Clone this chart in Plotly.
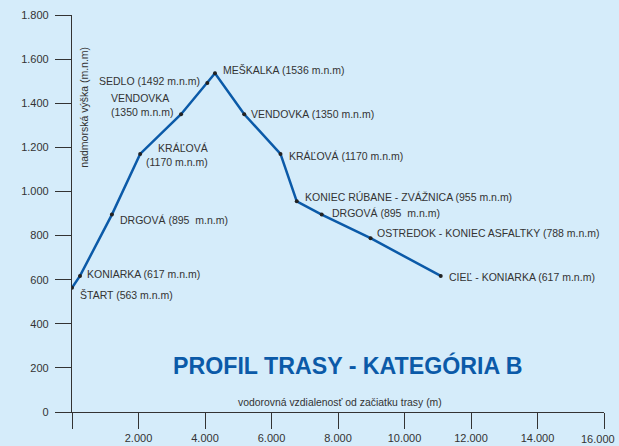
import plotly.graph_objects as go

# distance from start (m) and altitude (m.n.m)
distance = [0, 240, 1200, 2050, 3280, 4070, 4300, 5180, 6270, 6760, 7510, 8980, 11090]
altitude = [563, 617, 895, 1170, 1350, 1492, 1536, 1350, 1170, 955, 895, 788, 617]
labels = [
    "ŠTART (563 m.n.m)",
    "KONIARKA (617 m.n.m)",
    "DRGOVÁ (895  m.n.m)",
    "KRÁĽOVÁ<br>(1170 m.n.m)",
    "VENDOVKA<br>(1350 m.n.m)",
    "SEDLO (1492 m.n.m)",
    "MEŠKALKA (1536 m.n.m)",
    "VENDOVKA (1350 m.n.m)",
    "KRÁĽOVÁ (1170 m.n.m)",
    "KONIEC RÚBANE - ZVÁŽNICA (955 m.n.m)",
    "DRGOVÁ (895  m.n.m)",
    "OSTREDOK - KONIEC ASFALTKY (788 m.n.m)",
    "CIEĽ - KONIARKA (617 m.n.m)",
]

x_ticks = [0, 2000, 4000, 6000, 8000, 10000, 12000, 14000, 16000]
x_ticktext = ["", "2.000", "4.000", "6.000", "8.000", "10.000", "12.000", "14.000", "16.000"]

# label placement: (xanchor, align, xshift, yshift) in pixels
label_pos = [
    ("left", "left", 6, -7),
    ("left", "left", 5, 2),
    ("left", "left", 6, -5),
    ("left", "right", 4, -1),
    ("right", "left", -6, 9),
    ("right", "left", -5, 2),
    ("left", "left", 6, 3),
    ("left", "left", 5, 0),
    ("left", "left", 7, -2),
    ("left", "left", 6, 4),
    ("left", "left", 8, 2),
    ("left", "left", 4, 5),
    ("left", "left", 6, -1),
]

FONT = "Arial, Liberation Sans, sans-serif"
TXT = "#333333"
BLUE = "#0b5aa8"
BG = "#d5ecfa"

fig = go.Figure()
fig.add_trace(go.Scatter(
    x=distance, y=altitude, mode="lines+markers",
    line=dict(color=BLUE, width=2.5),
    marker=dict(color="#222222", size=4),
    hoverinfo="skip", showlegend=False,
))

annotations = []
for x, y, t, (xa, al, xs, ys) in zip(distance, altitude, labels, label_pos):
    annotations.append(dict(
        x=x, y=y, xref="x", yref="y", text=t, showarrow=False,
        xanchor=xa, yanchor="middle", align=al, xshift=xs, yshift=ys,
        font=dict(family=FONT, size=10.5, color=TXT),
    ))

annotations.append(dict(
    x=0.519, y=0.117, xref="paper", yref="paper",
    text="<b>PROFIL TRASY - KATEGÓRIA B</b>", showarrow=False,
    xanchor="center", yanchor="middle",
    font=dict(family=FONT, size=23.2, color=BLUE),
))
annotations.append(dict(
    x=0.503, y=0.025, xref="paper", yref="paper",
    text="vodorovná vzdialenosť od začiatku trasy (m)", showarrow=False,
    xanchor="center", yanchor="middle",
    font=dict(family=FONT, size=10.4, color=TXT),
))
annotations.append(dict(
    x=0.021, y=0.767, xref="paper", yref="paper",
    text="nadmorská výška (m.n.m)", showarrow=False, textangle=-90,
    xanchor="center", yanchor="middle",
    font=dict(family=FONT, size=10.5, color=TXT),
))
# last x label is pulled left a bit so it stays inside the page
annotations.append(dict(
    x=x_ticks[-1], y=-0.069, xref="x", yref="paper",
    text=x_ticktext[-1], showarrow=False,
    xanchor="right", yanchor="middle", xshift=13,
    font=dict(family=FONT, size=11, color=TXT),
))
shown_ticktext = x_ticktext[:-1] + [""]

axis_style = dict(
    showgrid=False, zeroline=False, showline=True,
    linecolor=TXT, linewidth=1.2,
    ticks="outside", ticklen=16, tickwidth=1.2, tickcolor=TXT,
    tickfont=dict(family=FONT, size=11, color=TXT),
    automargin=False,
)

fig.update_xaxes(range=[0, 16000], tickmode="array", tickvals=x_ticks,
                 ticktext=shown_ticktext, **axis_style)
fig.update_yaxes(range=[0, 1800], dtick=200, tick0=0, tickformat=",.0f",
                 ticklabelstandoff=4, **axis_style)

fig.update_layout(
    width=619, height=446,
    autosize=False,
    separators=",.",
    paper_bgcolor=BG, plot_bgcolor=BG,
    margin=dict(l=72, r=15, t=15, b=33.5),
    annotations=annotations,
    font=dict(family=FONT),
)

# drop the default page margin so the figure sits at the window's corner
fig.write_html("out.html",
               config=dict(displayModeBar=False),
               post_script="document.body.style.margin='0';"
                           "document.body.style.overflow='hidden';")
